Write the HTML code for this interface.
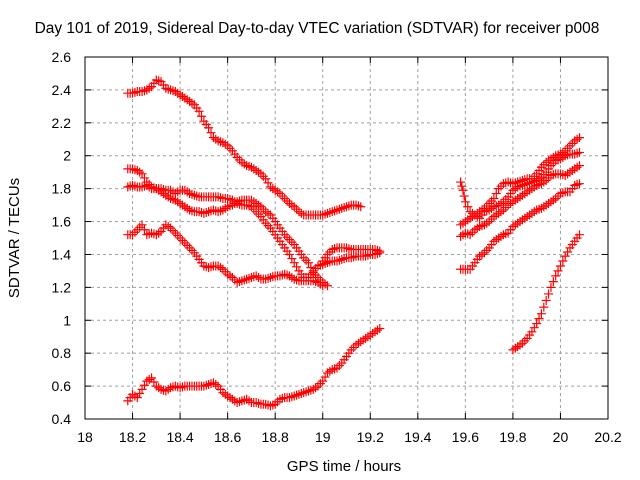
<!DOCTYPE html>
<html><head><meta charset="utf-8"><style>
body{margin:0;background:#fff}
svg{display:block;font-family:"Liberation Sans",sans-serif}
</style></head><body>
<svg id="chart" width="640" height="480" viewBox="0 0 640 480">
<text x="317" y="33" font-size="15.5" text-anchor="middle">Day 101 of 2019, Sidereal Day-to-day VTEC variation (SDTVAR) for receiver p008</text>
<text x="344" y="471" font-size="15" text-anchor="middle">GPS time / hours</text>
<text transform="translate(19,238) rotate(-90)" font-size="15" text-anchor="middle">SDTVAR / TECUs</text>
<g id="grid"></g>
<g id="axes"></g>
<g id="marks"></g>
<rect x="85" y="57" width="523" height="362" fill="none" stroke="#000" stroke-width="1"/>
</svg>
<script>
const xTicks=[18,18.2,18.4,18.6,18.8,19,19.2,19.4,19.6,19.8,20,20.2];
const xTickLabels=["18","18.2","18.4","18.6","18.8","19","19.2","19.4","19.6","19.8","20","20.2"];
const yTicks=[0.4,0.6,0.8,1,1.2,1.4,1.6,1.8,2,2.2,2.4,2.6];
const yTickLabels=["0.4","0.6","0.8","1","1.2","1.4","1.6","1.8","2","2.2","2.4","2.6"];

const aX=[18.18,18.2,18.22,18.24,18.26,18.28,18.3,18.32,18.34,18.36,18.38,18.4,18.42,18.44,18.46,18.48,18.5,18.52,18.54,18.56,18.58,18.6,18.62,18.64,18.66,18.68,18.7,18.72,18.74,18.76,18.78,18.8,18.82,18.84,18.86,18.88,18.9,18.92,18.94,18.96,18.98,19,19.02,19.04,19.06,19.08,19.1,19.12,19.14,19.16];
const aY=[2.38,2.38,2.39,2.39,2.4,2.42,2.46,2.45,2.41,2.4,2.39,2.37,2.35,2.33,2.31,2.27,2.21,2.17,2.11,2.09,2.08,2.06,2.03,1.99,1.96,1.94,1.93,1.91,1.89,1.86,1.81,1.79,1.77,1.74,1.71,1.69,1.66,1.64,1.64,1.64,1.64,1.64,1.65,1.66,1.67,1.68,1.69,1.7,1.7,1.69];
const bX=[18.18,18.2,18.22,18.24,18.26,18.28,18.3,18.32,18.34,18.36,18.38,18.4,18.42,18.44,18.46,18.48,18.5,18.52,18.54,18.56,18.58,18.6,18.62,18.64,18.66,18.68,18.7,18.72,18.74,18.76,18.78,18.8,18.82,18.84,18.86,18.88,18.9,18.92,18.94,18.96,18.98,19,19.02];
const bY=[1.92,1.92,1.91,1.89,1.84,1.81,1.8,1.78,1.76,1.74,1.73,1.71,1.69,1.67,1.66,1.66,1.65,1.66,1.67,1.66,1.67,1.69,1.7,1.72,1.73,1.73,1.73,1.71,1.69,1.66,1.64,1.6,1.56,1.52,1.49,1.46,1.42,1.38,1.35,1.29,1.26,1.23,1.21];
const cX=[18.18,18.2,18.22,18.24,18.26,18.28,18.3,18.32,18.34,18.36,18.38,18.4,18.42,18.44,18.46,18.48,18.5,18.52,18.54,18.56,18.58,18.6,18.62,18.64,18.66,18.68,18.7,18.72,18.74,18.76,18.78,18.8,18.82,18.84,18.86,18.88,18.9,18.92,18.94,18.96,18.98,19,19.02,19.04,19.06,19.08,19.1,19.12,19.14,19.16,19.18,19.2,19.22,19.24];
const cY=[1.81,1.82,1.81,1.81,1.82,1.8,1.8,1.8,1.79,1.79,1.77,1.79,1.79,1.77,1.76,1.75,1.75,1.75,1.75,1.75,1.74,1.74,1.73,1.71,1.7,1.7,1.69,1.66,1.63,1.59,1.56,1.52,1.48,1.44,1.4,1.35,1.3,1.26,1.26,1.3,1.33,1.34,1.35,1.36,1.36,1.37,1.38,1.38,1.39,1.39,1.39,1.4,1.4,1.41];
const c2X=[19.0,19.02,19.04,19.06,19.08,19.1,19.12,19.14,19.16,19.18,19.2,19.22,19.24];
const c2Y=[1.36,1.4,1.43,1.44,1.44,1.44,1.43,1.43,1.43,1.43,1.43,1.43,1.42];
const dX=[18.18,18.2,18.22,18.24,18.26,18.28,18.3,18.32,18.34,18.36,18.38,18.4,18.42,18.44,18.46,18.48,18.5,18.52,18.54,18.56,18.58,18.6,18.62,18.64,18.66,18.68,18.7,18.72,18.74,18.76,18.78,18.8,18.82,18.84,18.86,18.88,18.9,18.92,18.94,18.96,18.98,19];
const dY=[1.52,1.52,1.55,1.58,1.52,1.53,1.52,1.54,1.58,1.56,1.53,1.5,1.47,1.44,1.41,1.37,1.33,1.32,1.33,1.33,1.31,1.28,1.26,1.23,1.24,1.25,1.26,1.27,1.25,1.25,1.26,1.27,1.27,1.28,1.27,1.25,1.24,1.24,1.24,1.24,1.23,1.21];
const eX=[18.18,18.2,18.22,18.24,18.26,18.28,18.3,18.32,18.34,18.36,18.38,18.4,18.42,18.44,18.46,18.48,18.5,18.52,18.54,18.56,18.58,18.6,18.62,18.64,18.66,18.68,18.7,18.72,18.74,18.76,18.78,18.8,18.82,18.84,18.86,18.88,18.9,18.92,18.94,18.96,18.98,19,19.02,19.04,19.06,19.08,19.1,19.12,19.14,19.16,19.18,19.2,19.22,19.24];
const eY=[0.51,0.55,0.53,0.58,0.63,0.65,0.6,0.58,0.57,0.59,0.6,0.59,0.6,0.6,0.6,0.6,0.6,0.61,0.62,0.6,0.56,0.54,0.52,0.5,0.51,0.52,0.5,0.5,0.49,0.49,0.48,0.49,0.52,0.53,0.53,0.54,0.55,0.56,0.57,0.58,0.6,0.63,0.68,0.7,0.71,0.74,0.78,0.82,0.85,0.87,0.89,0.91,0.93,0.95];
const fX=[19.8,19.82,19.84,19.86,19.88,19.9,19.92,19.94,19.96,19.98,20,20.02,20.04,20.06,20.08];
const fY=[0.82,0.84,0.86,0.89,0.93,0.98,1.04,1.12,1.2,1.27,1.33,1.39,1.44,1.48,1.52];
const gX=[19.58,19.6,19.62,19.64,19.66,19.68,19.7,19.72,19.74,19.76,19.78,19.8,19.82,19.84,19.86,19.88,19.9,19.92,19.94,19.96,19.98,20,20.02,20.04,20.06,20.08];
const gY=[1.31,1.31,1.31,1.35,1.39,1.41,1.44,1.48,1.5,1.52,1.53,1.57,1.59,1.61,1.63,1.65,1.67,1.68,1.7,1.72,1.74,1.77,1.78,1.78,1.82,1.83];
const hX=[19.58,19.59,19.6,19.62,19.64,19.66,19.68,19.7,19.72,19.74,19.76,19.78,19.8,19.82,19.84,19.86,19.88,19.9,19.92,19.94,19.96,19.98,20,20.02,20.04,20.06,20.08];
const hY=[1.84,1.79,1.72,1.66,1.64,1.66,1.68,1.71,1.74,1.8,1.83,1.84,1.83,1.84,1.85,1.86,1.86,1.89,1.93,1.96,1.98,2,2.01,2.03,2.06,2.09,2.11];
const iX=[19.58,19.6,19.62,19.64,19.66,19.68,19.7,19.72,19.74,19.76,19.78,19.8,19.82,19.84,19.86,19.88,19.9,19.92,19.94,19.96,19.98,20,20.02,20.04,20.06,20.08];
const iY=[1.58,1.6,1.62,1.64,1.62,1.66,1.67,1.69,1.7,1.72,1.75,1.79,1.81,1.82,1.83,1.84,1.85,1.87,1.9,1.94,1.97,1.98,2,2.01,2.01,2.02];
const jX=[19.58,19.6,19.62,19.64,19.66,19.68,19.7,19.72,19.74,19.76,19.78,19.8,19.82,19.84,19.86,19.88,19.9,19.92,19.94,19.96,19.98,20,20.02,20.04,20.06,20.08];
const jY=[1.51,1.53,1.52,1.55,1.57,1.58,1.6,1.63,1.65,1.67,1.7,1.72,1.74,1.76,1.78,1.8,1.82,1.83,1.85,1.88,1.89,1.89,1.88,1.9,1.92,1.94];

const NS="http://www.w3.org/2000/svg";
const L=85,R=608,T=57,B=419;
function sx(v){return L+(v-18)/(20.2-18)*(R-L);}
function sy(v){return B-(v-0.4)/(2.6-0.4)*(B-T);}
function mk(tag,attrs,parent){const e=document.createElementNS(NS,tag);for(const k in attrs)e.setAttribute(k,attrs[k]);parent.appendChild(e);return e;}
const grid=document.getElementById('grid'),axes=document.getElementById('axes'),marks=document.getElementById('marks');
xTicks.forEach((v,i)=>{
  const x=sx(v);
  if(i>0&&i<xTicks.length-1){const g=mk('line',{x1:x,x2:x,y1:T,y2:B,stroke:'#a0a0a0','stroke-dasharray':'3,3'},grid);
  
  }
  const t=mk('line',{x1:x,x2:x,y1:B,y2:B-6,stroke:'#000'},axes);
  
  
  const t2=mk('line',{x1:x,x2:x,y1:T,y2:T+6,stroke:'#000'},axes);
  
  
  const lb=mk('text',{x:x,y:442,'font-size':14,'text-anchor':'middle'},axes);
  lb.textContent=xTickLabels[i];
  
  
});
yTicks.forEach((v,i)=>{
  const y=sy(v);
  if(i>0&&i<yTicks.length-1){const g=mk('line',{x1:L,x2:R,y1:y,y2:y,stroke:'#a0a0a0','stroke-dasharray':'3,3'},grid);
  
  }
  const t=mk('line',{x1:L,x2:L+6,y1:y,y2:y,stroke:'#000'},axes);
  
  
  const t2=mk('line',{x1:R,x2:R-6,y1:y,y2:y,stroke:'#000'},axes);
  
  
  const lb=mk('text',{x:71,y:y+5,'font-size':14,'text-anchor':'end'},axes);
  lb.textContent=yTickLabels[i];
  
  
});
const series=[[aX,aY],[bX,bY],[cX,cY],[c2X,c2Y],[dX,dY],[eX,eY],[fX,fY],[gX,gY],[hX,hY],[iX,iY],[jX,jY]];
series.forEach((s,si)=>{
  const xs=s[0],ys=s[1];
  let d='';
  for(let k=0;k<xs.length;k++){
    const px=sx(xs[k]),py=sy(ys[k]);
    d+=`M${px-4.5},${py}h9M${px},${py-4.5}v9`;
    if(k<xs.length-1){const qx=(px+sx(xs[k+1]))/2,qy=(py+sy(ys[k+1]))/2;d+=`M${qx-4.5},${qy}h9M${qx},${qy-4.5}v9`;}
  }
  const p=mk('path',{d:d,stroke:'#ff0000','stroke-width':1.2,fill:'none'},marks);
  
  
});
</script>
</body></html>
